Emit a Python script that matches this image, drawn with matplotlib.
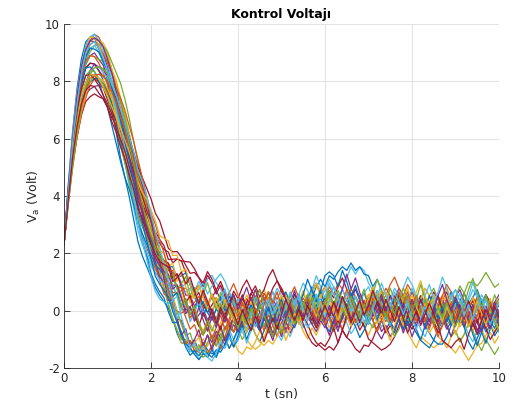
import numpy as np
import matplotlib
matplotlib.use("Agg")
import matplotlib.pyplot as plt

# time axis (s), 0.1 s step
t_sn = np.round(np.arange(0, 101) * 0.1, 2)

# ensemble centre (V)
va_mean = [2.3, 4.0, 5.5, 6.7, 7.6, 8.2, 8.5, 8.6, 8.5, 8.3,
           8.0, 7.5, 7.0, 6.5, 5.95, 5.4, 4.75, 4.1, 3.6, 3.1,
           2.6, 2.1, 1.7, 1.35, 1.0, 0.75, 0.5, 0.3, 0.15, 0.0,
           -0.1, -0.15, -0.2, -0.2, -0.2, -0.2, -0.15, -0.15, -0.15, -0.1,
           -0.1, -0.1, -0.1, -0.05, -0.05, -0.05, -0.05, 0.0, 0.0, 0.0,
           0.0, 0.0, 0.0, 0.05, 0.05, 0.05, 0.05, 0.05, 0.05, 0.05,
           0.05, 0.05, 0.05, 0.05, 0.1, 0.1, 0.1, 0.1, 0.1, 0.1,
           0.05, 0.05, 0.05, 0.05, 0.0, 0.0, 0.0, 0.0, 0.0, 0.0,
           0.0, 0.0, 0.0, 0.0, 0.0, 0.0, 0.0, 0.0, 0.0, 0.0,
           -0.05, -0.05, -0.05, -0.05, -0.05, -0.05, -0.1, -0.1, -0.1, -0.1,
           -0.1]

# per-run offsets from the centre, in steps of OFFSET_STEP volts
OFFSET_STEP = 0.13
run01 = [0, 3, 6, 8, 9, 9, 8, 7, 5, 3,
         0, -3, -6, -9, -10, -11, -12, -13, -13, -12,
         -11, -10, -9, -8, -7, -8, -10, -11, -10, -11,
         -10, -9, -7, -9, -10, -10, -9, -8, -6, -9,
         -7, -4, -2, -5, -3, 0, -2, -4, -1, 1,
         3, 0, 2, -1, -3, 0, 2, 4, 1, 3,
         0, -2, -4, -1, -3, 0, 2, -1, 1, -2,
         -4, -1, 1, 3, 0, 2, -1, -3, -5, -2,
         0, 2, -1, -4, -6, -8, -5, -3, 0, 2,
         4, 1, 3, 0, -2, 1, 3, 0, -2, -4,
         -1]
run02 = [0, 2, 5, 6, 7, 7, 7, 8, 8, 7,
         7, 7, 6, 6, 5, 4, 4, 3, 3, 2,
         2, 1, 0, -1, 0, -2, -4, -3, -1, 1,
         3, 5, 2, 4, 1, -1, 2, 4, 6, 3,
         1, -2, 0, 2, -1, -3, -1, 2, 5, 3,
         6, 4, 1, 3, 0, -2, 1, -1, -4, -2,
         0, 3, 1, -2, 0, 2, 5, 3, 0, -2,
         1, 4, 2, -1, -3, 0, 2, 5, 3, 1,
         -2, 0, 3, 1, -1, 2, 4, 1, -1, -3,
         0, 2, -1, 1, 4, 2, 0, -2, 1, 3,
         2]
run03 = [0, 1, 3, 4, 5, 6, 7, 7, 7, 8,
         8, 7, 8, 7, 7, 6, 5, 4, 2, 1,
         0, -2, -3, -5, -6, -8, -9, -11, -10, -8,
         -10, -9, -6, -8, -5, -7, -4, -6, -9, -7,
         -10, -11, -9, -10, -8, -5, -7, -4, -6, -3,
         -5, -2, -4, -1, -3, -6, -8, -5, -7, -4,
         -2, -5, -3, 0, -2, 1, -1, -4, -2, -5,
         -7, -4, -6, -3, -1, -4, -2, 0, -3, -6,
         -8, -10, -7, -8, -9, -10, -9, -8, -10, -7,
         -5, -8, -6, -3, -5, -2, -4, -7, -5, -8,
         -6]
run04 = [0, -1, -2, -3, -4, -5, -6, -6, -5, -4,
         -3, -2, 0, 1, 2, 3, 3, 2, 1, 0,
         -1, 0, 2, 3, 5, 4, 6, 5, 3, 4,
         2, 4, 6, 3, 5, 7, 4, 2, 5, 3,
         1, 3, 0, 2, 4, 6, 3, 5, 2, 0,
         -2, 1, -1, 2, 4, 1, 3, 5, 7, 4,
         6, 3, 1, 4, 2, 0, 3, 5, 2, 4,
         1, -1, 2, 0, -2, 1, 3, 6, 4, 2,
         5, 3, 1, -1, 2, 4, 1, 3, 0, 2,
         4, 6, 3, 1, 3, 0, 2, 4, 1, 3,
         5]
run05 = [0, 1, 2, 3, 3, 4, 4, 5, 6, 7,
         8, 9, 10, 11, 11, 10, 9, 8, 7, 6,
         5, 4, 3, 2, 2, 1, 0, -2, -1, 1,
         -1, -3, -5, -3, -6, -8, -5, -7, -4, -2,
         -4, -1, -3, 0, -2, -5, -3, -6, -4, -1,
         1, -2, 0, 2, -1, -3, 0, 2, 4, 1,
         -1, -3, -6, -4, -1, 1, -2, 0, -3, -5,
         -2, 0, 3, 1, -1, -4, -2, 1, -1, -3,
         0, 2, 4, 1, -1, -3, -5, -2, -4, -7,
         -5, -8, -6, -3, -5, -8, -10, -7, -9, -11,
         -9]
run06 = [0, 3, 5, 7, 7, 8, 8, 8, 7, 7,
         6, 6, 5, 3, 2, 0, -1, -3, -4, -5,
         -4, -3, -1, 0, 1, 3, 2, 4, 6, 8,
         6, 9, 7, 10, 11, 9, 7, 4, 6, 3,
         1, 4, 2, -1, 1, -2, -4, -1, -3, -6,
         -8, -5, -7, -4, -2, -5, -3, 0, 2, -1,
         1, 4, 6, 3, 5, 8, 11, 9, 11, 10,
         7, 5, 2, 0, 3, 1, -2, 0, -3, -5,
         -2, 0, 3, 6, 4, 1, -1, 2, 0, -3,
         -1, 2, 5, 3, 6, 4, 1, -1, 2, 0,
         -2]
run07 = [0, -1, -3, -5, -6, -7, -8, -8, -8, -7,
         -7, -6, -4, -3, -2, -1, 0, 0, 1, 2,
         3, 4, 5, 6, 8, 7, 10, 11, 9, 7,
         4, 6, 3, 1, 3, 5, 2, 0, -3, -1,
         1, 4, 2, 5, 3, 0, -2, 1, -1, -4,
         -6, -3, -1, 2, 0, -2, -4, -7, -9, -10,
         -11, -10, -11, -9, -6, -8, -5, -3, -6, -4,
         -1, 1, -2, 0, 3, 1, 4, 2, 0, -2,
         1, -1, -3, 0, 2, 5, 3, 1, -2, 0,
         -3, -1, 2, 0, -2, -5, -3, -1, 1, -1,
         0]
run08 = [0, 0, 1, 1, 2, 2, 1, 0, -1, -2,
         -3, -4, -5, -5, -6, -6, -5, -4, -3, -2,
         -1, 0, 1, 2, 4, 6, 5, 7, 9, 7,
         5, 2, 4, 1, -1, 2, 0, 3, 5, 2,
         0, -3, -1, 2, 4, 1, 3, 0, -2, 1,
         3, 5, 2, 4, 1, -2, 0, 3, 6, 8,
         6, 9, 8, 10, 11, 10, 12, 10, 11, 9,
         9, 6, 8, 5, 2, 4, 1, -1, 2, 0,
         -2, 1, 3, 0, 2, -1, -3, 0, 2, 5,
         3, 1, -1, 2, 4, 6, 3, 5, 2, 0,
         3]
run09 = [0, -2, -4, -5, -6, -6, -5, -4, -4, -3,
         -3, -2, -2, -3, -4, -5, -6, -7, -8, -7,
         -6, -5, -4, -2, 0, -1, 1, -1, -3, -5,
         -3, -6, -4, -2, 1, -1, 2, 0, -2, 1,
         3, 1, -1, -3, 0, 2, 4, 1, -1, 2,
         0, -3, -5, -2, 0, 3, 1, -1, -4, -2,
         1, -1, -3, 0, 2, -1, 1, 3, 0, -2,
         0, 2, 5, 3, 6, 4, 1, 3, 0, -2,
         -4, -1, 1, 3, 0, -2, 1, 4, 2, 0,
         -3, -1, 2, 0, -2, 1, -1, -4, -2, 0,
         -1]
run10 = [0, 2, 4, 6, 6, 7, 8, 7, 7, 7,
         7, 7, 7, 7, 6, 6, 5, 5, 4, 4,
         3, 2, 2, 1, 0, 1, 3, 2, 0, -2,
         0, -2, -4, -1, -3, -5, -2, 0, 2, -1,
         -3, -5, -7, -9, -10, -9, -7, -4, -6, -3,
         -1, 1, -2, 0, 2, -1, -3, -1, 2, 4,
         2, -1, 1, -2, -4, -2, 1, 3, 0, 2,
         -1, 1, 3, 5, 2, 0, -2, 1, -1, -3,
         -1, 2, 0, -3, -6, -4, -7, -8, -9, -10,
         -11, -9, -11, -13, -11, -9, -8, -6, -3, -5,
         -2]
run11 = [0, 1, 1, 2, 2, 3, 3, 3, 2, 2,
         1, 1, 0, -1, -2, -3, -4, -5, -5, -4,
         -3, -2, -1, -1, -2, -4, -6, -5, -7, -9,
         -7, -10, -8, -5, -7, -4, -6, -8, -5, -3,
         -5, -2, 0, -3, -1, 2, -1, -3, -6, -4,
         -2, -5, -3, 0, -2, 1, -1, -4, -6, -3,
         -5, -2, 0, 3, 1, -2, -4, -1, -3, 0,
         2, -1, -3, -6, -4, -7, -5, -2, -4, -1,
         1, -2, 0, 3, 1, -1, -4, -2, -5, -3,
         0, -2, 1, -1, -3, -6, -4, -1, -3, 0,
         -2]
run12 = [0, 2, 3, 4, 4, 3, 3, 2, 2, 3,
         3, 4, 5, 6, 6, 5, 5, 4, 4, 3,
         2, 0, -2, -4, -6, -8, -9, -10, -9, -10,
         -11, -8, -10, -7, -5, -8, -6, -3, -5, -2,
         -4, -7, -5, -2, 0, -3, -1, 2, 0, -2,
         1, 3, 0, -2, 1, 4, 2, 5, 3, 0,
         -2, 1, -1, -4, -2, 0, 3, 1, -2, 0,
         2, 5, 3, 1, -1, 2, 0, -2, -5, -3,
         0, 2, -1, 1, 4, 6, 3, 1, -1, 2,
         4, 7, 5, 8, 8, 7, 9, 11, 9, 7,
         8]
run13 = [0, 1, 2, 2, 3, 4, 5, 5, 4, 3,
         2, 0, -2, -4, -6, -8, -9, -10, -10, -9,
         -8, -6, -4, -2, -3, -5, -7, -9, -10, -11,
         -10, -12, -10, -10, -8, -11, -9, -6, -4, -7,
         -5, -2, -4, -1, 1, -2, 0, 3, 5, 2,
         4, 1, -1, -3, 0, -2, -5, -3, -1, 2,
         0, -3, -1, 1, -2, -4, -7, -5, -2, 0,
         2, -1, 1, -2, 0, 3, 6, 4, 1, 3,
         0, -2, -5, -7, -4, -2, 1, -1, 2, 4,
         1, -1, -3, -6, -8, -5, -3, 0, -2, 1,
         3]
run14 = [0, 1, 2, 3, 3, 2, 1, 0, -1, -1,
         0, 1, 2, 3, 4, 5, 6, 7, 8, 9,
         10, 10, 11, 10, 9, 10, 12, 12, 11, 10,
         11, 10, 8, 11, 9, 6, 8, 5, 3, 6,
         4, 7, 9, 6, 4, 2, 5, 3, 6, 8,
         5, 3, 1, 4, 2, 0, 3, 1, -2, 0,
         2, 5, 3, 6, 8, 5, 2, 0, -3, -5,
         -8, -9, -10, -11, -10, -9, -7, -4, -1, 1,
         3, 1, 4, 2, 0, -2, 1, 3, 5, 2,
         0, -2, -4, -1, 1, 4, 2, 5, 3, 1,
         2]
run15 = [0, -1, -2, -2, -3, -3, -4, -4, -3, -3,
         -2, -2, -3, -4, -5, -6, -7, -8, -9, -9,
         -10, -9, -8, -7, -8, -9, -7, -8, -10, -10,
         -11, -12, -10, -11, -9, -11, -8, -6, -9, -7,
         -4, -2, -5, -3, -6, -8, -5, -3, -1, -4,
         -2, 0, -3, -5, -2, 0, 2, -1, 1, -2,
         -4, -6, -3, -1, 1, -1, -3, -5, -8, -6,
         -3, -1, 2, 0, -2, 1, 3, 0, -3, -1,
         -4, -6, -8, -9, -10, -8, -9, -9, -7, -4,
         -2, 0, -3, -1, 2, 0, -2, -5, -3, -6,
         -4]
run16 = [0, 1, 2, 3, 4, 4, 3, 2, 1, 0,
         -1, -1, 0, 1, 2, 2, 1, 0, -1, -2,
         -3, -4, -5, -6, -4, -2, 1, 3, 5, 3,
         6, 8, 5, 3, 6, 4, 1, 3, 6, 8,
         5, 2, 4, 1, -1, 2, 5, 3, 0, 2,
         -1, 1, 4, 6, 3, 1, 4, 2, -1, 1,
         3, 6, 4, 7, 5, 2, 0, 3, 1, -2,
         0, -3, -1, 2, 4, 7, 9, 6, 4, 7,
         5, 2, 0, 3, 1, -1, 2, 4, 7, 5,
         3, 0, 2, -1, 1, 3, 0, -2, 0, 2,
         4]
run17 = [0, -2, -3, -4, -5, -5, -4, -3, -3, -2,
         -2, -1, -1, 0, 0, 1, 1, 2, 2, 3,
         3, 4, 3, 2, 0, -2, -4, -6, -8, -10,
         -8, -6, -9, -10, -8, -6, -3, -1, -4, -2,
         0, 3, 1, -1, 2, 4, 6, 3, 1, -1,
         2, 4, 1, -1, -3, -1, 2, 4, 7, 5,
         2, 0, -2, 1, 3, 0, -2, -4, -1, 1,
         4, 2, 0, 3, 5, 2, 0, -3, -1, 2,
         4, 1, 3, 6, 4, 1, -1, 2, 4, 1,
         -1, -4, -2, 1, 3, 0, 2, -1, -3, -5,
         -3]
run18 = [0, 2, 3, 5, 6, 7, 7, 6, 5, 5,
         4, 3, 3, 2, 1, 0, 0, -1, -2, -2,
         -3, -3, -4, -3, -1, 1, 3, 1, -1, 1,
         -2, 0, 2, -1, 1, 4, 2, 0, -3, -5,
         -3, -1, 2, 0, -3, -5, -2, 0, 3, 1,
         -1, -3, -6, -4, -1, 1, -2, -4, -2, 1,
         3, 0, -2, -5, -3, 0, 2, 5, 3, 1,
         -1, -3, -6, -8, -5, -3, -5, -2, 0, -2,
         1, 3, 0, -2, -4, -1, 1, 3, 0, -2,
         1, 3, 5, 2, 0, -3, -5, -2, -4, -1,
         1]
run19 = [0, 0, -1, -2, -3, -4, -4, -3, -2, -1,
         0, 1, 1, 2, 3, 4, 5, 5, 6, 6,
         5, 3, 1, -1, -3, -5, -4, -6, -8, -6,
         -9, -10, -11, -10, -8, -5, -7, -4, -2, -5,
         -3, 0, 2, -1, 1, -2, -4, -1, 1, -2,
         0, 2, 4, 1, -1, 2, 0, -3, -5, -2,
         0, -2, 1, 3, 0, -2, -4, -2, 1, -1,
         -3, -5, -3, 0, -2, -4, -7, -5, -2, 0,
         2, -1, -3, -1, 2, 4, 1, -1, -4, -2,
         0, 3, 1, -2, -4, -1, 1, 4, 2, -1,
         -3]
run20 = [0, 2, 4, 5, 7, 8, 8, 8, 7, 6,
         5, 4, 2, 0, -2, -3, -5, -6, -7, -8,
         -7, -6, -5, -3, -1, 1, 0, 2, 4, 6,
         4, 7, 9, 6, 8, 10, 11, 9, 6, 4,
         2, 0, 3, 1, 4, 2, -1, 1, 3, 6,
         4, 1, -1, 2, 4, 7, 5, 2, 0, 3,
         5, 8, 6, 3, 1, 4, 2, -1, 1, 4,
         6, 3, 5, 2, 0, -2, 1, 3, 6, 9,
         7, 4, 2, -1, 1, 3, 0, -2, 1, 4,
         6, 3, 1, -2, 0, 2, 5, 3, 0, -2,
         1]
run21 = [0, 1, 1, 0, -1, -2, -2, -3, -4, -4,
         -5, -4, -3, -2, -1, 0, 1, 2, 3, 3,
         4, 5, 6, 7, 6, 8, 10, 11, 12, 13,
         12, 10, 9, 12, 10, 7, 9, 6, 3, 5,
         2, 0, 3, 5, 7, 4, 6, 9, 11, 8,
         6, 3, 1, -2, 0, 2, -1, -3, -1, 2,
         0, -2, -5, -3, -6, -8, -9, -11, -12, -10,
         -10, -8, -5, -3, -6, -4, -1, 1, -1, -3,
         -5, -3, 0, 2, -1, -3, -6, -4, -1, 1,
         3, 0, -2, 1, 3, 1, -2, -4, -7, -5,
         -3]
run22 = [0, 1, 2, 3, 3, 2, 0, -2, -4, -6,
         -7, -8, -9, -10, -10, -9, -8, -8, -7, -6,
         -5, -4, -2, -1, 0, -2, 1, -1, 2, -1,
         1, 4, 0, 3, -1, 2, 5, 1, 4, 0,
         -3, 1, -2, 2, -1, 3, 0, -3, 1, -2,
         -5, -1, -4, 0, 3, -1, 2, 6, 2, 5,
         1, -2, 2, -1, 3, 0, 4, 1, -3, 0,
         -4, -1, 2, -2, 1, -3, -6, -2, -5, -1,
         2, -1, 3, 0, 4, 1, -2, 2, -1, -4,
         0, -3, 1, -2, -6, -9, -5, -8, -4, -1,
         -3]
run23 = [0, 0, 1, 2, 4, 5, 6, 6, 6, 5,
         5, 6, 6, 7, 8, 8, 9, 9, 8, 7,
         6, 4, 2, 0, -2, -4, -6, -9, -10, -8,
         -10, -10, -7, -10, -8, -5, -9, -6, -2, -5,
         -1, -4, 0, -3, 1, -2, -5, -1, -4, -7,
         -3, -6, -2, 1, -2, 2, -1, 3, 0, -3,
         1, -2, -5, -2, -6, -3, 0, -4, -1, 2,
         -1, 3, 0, -3, 1, -2, 2, 5, 1, 4,
         0, -3, 1, -2, -5, -1, -4, 0, 3, -1,
         2, -2, 1, -3, 0, 4, 0, -3, 1, -2,
         0]
run24 = [0, 1, 3, 5, 6, 7, 8, 7, 6, 4,
         2, 0, -2, -3, -4, -4, -3, -2, -1, 0,
         1, 2, 3, 5, 4, 7, 4, 8, 5, 2,
         6, 3, 7, 4, 1, 5, 2, -1, 3, 0,
         4, 1, 5, 2, 6, 3, -1, 2, -2, 1,
         4, 0, 3, -1, 2, 5, 1, 4, 7, 3,
         6, 2, -1, 3, 0, 4, 1, -2, 2, -1,
         3, 6, 2, 5, 1, -2, 2, -1, 3, 6,
         2, 5, 8, 4, 1, 4, 0, 3, 6, 2,
         -1, 2, -2, 1, 4, 0, -3, 1, 4, 0,
         3]
run25 = [0, -1, -1, -2, -2, -2, -1, 0, 0, 1,
         1, 2, 3, 3, 4, 5, 5, 6, 6, 5,
         4, 2, 0, -2, -5, -3, -6, -9, -6, -10,
         -7, -4, -8, -5, -9, -6, -3, -7, -4, -1,
         -5, -2, 1, -3, 0, -4, -1, -5, -8, -4,
         -7, -3, 0, -4, -1, 2, -2, 1, -3, 0,
         -4, -7, -3, -6, -2, 1, -3, 0, -4, -1,
         2, -2, 1, 4, 0, -3, 1, -2, -6, -3,
         -7, -4, -1, -5, -2, 1, -3, 0, -4, -7,
         -3, 0, -4, -1, 2, -2, -5, -1, -4, 0,
         -3]
run26 = [0, 1, 1, 1, 0, 0, -1, -2, -3, -3,
         -4, -5, -5, -6, -6, -7, -7, -6, -5, -4,
         -3, -1, 1, 3, 1, 4, 2, 5, 8, 4,
         7, 3, 6, 9, 5, 2, 6, 3, 0, 4,
         1, -2, 2, -1, 3, 6, 2, 5, 1, -2,
         2, -1, 3, 0, -3, 1, 4, 0, 3, -1,
         2, 5, 1, 4, 0, -3, 1, -2, 2, 5,
         1, 4, 8, 5, 2, 6, 3, 0, 4, 1,
         -2, 2, -1, 3, 0, -4, -1, 2, -2, 1,
         4, 1, 5, 2, -1, 3, 0, -3, 1, 5,
         2]
run27 = [0, -1, -2, -3, -3, -2, -2, -1, 0, 0,
         1, 1, 0, -1, -2, -4, -6, -8, -9, -10,
         -11, -11, -10, -8, -6, -3, -6, -2, 1, -3,
         0, 4, 1, -2, 2, -1, 3, 7, 3, 0,
         4, 1, -3, 0, -4, -1, 3, -1, 2, -2,
         -5, -1, -4, 0, 3, -1, 2, 5, 9, 6,
         3, 7, 4, 1, 5, 2, -1, 3, 0, -4,
         -1, 2, -2, -5, -1, -4, 0, 3, -1, 2,
         6, 3, 0, 4, 7, 3, 0, -3, 1, -2,
         2, 5, 1, 4, 8, 4, 1, 4, 0, -3,
         1]
run28 = [0, 1, 2, 2, 1, 0, -2, -4, -5, -6,
         -6, -5, -5, -4, -3, -3, -2, -2, -1, -1,
         0, 1, 2, 3, 5, 3, 6, 4, 1, 4,
         0, -3, 1, -2, 2, -1, -4, 0, 3, -1,
         2, 5, 1, 4, 0, -3, 0, -4, -7, -3,
         -6, -2, 1, -3, 0, -4, -7, -9, -10, -9,
         -10, -8, -5, -9, -6, -2, -5, -1, -4, 0,
         3, -1, 2, -2, 1, -3, 0, 4, 1, -2,
         2, -1, 3, 0, -3, 1, 4, 0, -3, 1,
         -2, 2, -1, 3, 0, -3, 1, -2, 2, 0,
         -1]
run29 = [0, 2, 3, 4, 5, 5, 5, 4, 4, 3,
         3, 2, 2, 1, 0, -1, -2, -3, -4, -5,
         -6, -7, -6, -5, -4, -6, -7, -9, -11, -12,
         -10, -11, -9, -10, -11, -9, -10, -8, -5, -9,
         -6, -3, -7, -4, -1, -5, -2, 1, -3, 0,
         3, -1, 2, -2, 1, 4, 8, 5, 2, 5,
         9, 10, 9, 6, 10, 7, 3, 6, 2, -1,
         3, 0, -3, 1, -2, 2, -1, 3, 0, -4,
         -1, -5, -8, -4, -1, 2, -2, 1, -3, 0,
         3, 0, -4, -8, -10, -7, -4, 0, -3, 1,
         -2]
run30 = [0, -1, -2, -3, -4, -4, -3, -3, -2, -1,
         0, 1, 2, 2, 3, 3, 4, 4, 5, 5,
         6, 7, 6, 5, 3, 5, 2, 4, 1, -2,
         1, -2, -5, -2, -6, -3, 0, -4, -1, 2,
         -1, 3, 0, -3, 1, -2, 2, 5, 2, 5,
         1, -2, 2, -1, -4, -1, 3, 0, -3, 0,
         -4, -1, 2, -2, 1, 5, 2, -1, 2, -2,
         1, -3, -6, -3, 0, -3, 1, -2, 2, 5,
         1, 4, 0, -3, 0, -4, -7, -4, -1, 2,
         -2, 1, -3, 0, -4, -1, 2, -1, 3, 0,
         -2]
run31 = [0, 0, 0, -1, -1, -2, -2, -3, -3, -4,
         -4, -3, -2, -1, 0, 1, 2, 3, 4, 6,
         7, 8, 7, 9, 11, 9, 11, 8, 10, 7,
         4, 8, 5, 2, 6, 3, 0, 4, 1, -2,
         2, -1, -5, -2, -6, -8, -9, -8, -9, -7,
         -4, -8, -5, -1, -4, 0, -3, 1, -2, 2,
         -1, 3, 0, -3, 1, -2, -5, -1, 2, -1,
         3, 0, -4, -1, -5, -8, -4, -1, -4, 0,
         -3, 1, -2, 2, -1, 3, 0, -3, 1, -2,
         -6, -3, 0, -4, -1, 3, 0, -3, 1, -2,
         -4]
run32 = [0, 2, 4, 6, 7, 7, 7, 7, 7, 7,
         6, 6, 5, 4, 4, 3, 2, 1, 0, -1,
         -2, -2, -1, 0, 2, 0, 3, 1, -2, 1,
         -2, 2, -1, -4, 0, -3, 1, -2, 2, 5,
         1, 4, 7, 3, 6, 2, -1, 3, 0, -3,
         1, -2, 2, 5, 1, -2, 2, -1, -4, 0,
         -3, 1, -2, 2, 5, 9, 5, 8, 4, 1,
         -2, 2, -1, 3, 0, 4, 1, -2, 2, -1,
         3, 0, -3, 1, -3, 0, 4, 7, 3, 0,
         4, 1, -2, 2, -1, -5, -2, 2, -1, 3,
         0]
run33 = [0, -2, -3, -4, -4, -3, -2, -1, 0, 1,
         2, 3, 4, 4, 4, 3, 3, 2, 1, 0,
         0, 1, 2, 3, 1, 4, 2, -1, 2, -1,
         2, -2, -5, -1, -4, -1, 3, -1, 2, -1,
         -4, 0, -3, 1, -2, 2, -1, -4, -7, -3,
         -6, -3, 0, -4, -1, 2, -1, 3, 0, -3,
         1, 4, 1, 5, 2, -1, 3, 0, -3, 1,
         -2, 1, 4, 1, -2, 2, -1, 3, 6, 3,
         0, 3, 7, 3, 0, -3, 1, -2, 2, -1,
         -4, -1, 2, 6, 9, 5, 2, 5, 1, -2,
         -5]
run34 = [0, 1, 3, 4, 5, 6, 6, 6, 5, 4,
         3, 3, 4, 4, 5, 5, 6, 6, 7, 7,
         6, 5, 4, 2, 0, -3, 0, -4, -7, -10,
         -8, -10, -8, -11, -12, -10, -7, -9, -6, -8,
         -7, -4, -8, -5, -1, -4, 0, 3, -1, 2,
         -2, 1, 5, 1, 4, 0, -3, 0, 4, 1,
         -2, 2, 6, 3, 0, 4, 1, -2, -5, -1,
         -4, 0, 3, 7, 4, 1, 5, 2, -1, 2,
         -2, -5, -2, 1, -2, 2, 5, 9, 6, 3,
         6, 3, -1, 2, -2, 1, 4, 1, -3, 0,
         3]
run35 = [0, -1, -1, -2, -3, -4, -5, -6, -7, -7,
         -7, -7, -6, -6, -5, -5, -4, -4, -3, -3,
         -2, -1, 0, 2, 4, 2, 5, 8, 6, 9,
         6, 3, 7, 4, 1, -2, 2, -1, 3, 0,
         -3, 1, -2, -5, -1, -4, -8, -5, -2, -5,
         -1, 3, 0, -3, 0, -3, 1, -2, -5, -2,
         1, -2, 2, -1, 3, 0, -4, -1, 2, -2,
         1, 5, 2, -1, 3, 0, -3, 1, -2, -6,
         -3, 0, -4, -1, 2, -1, -4, -8, -9, -10,
         -8, -7, -10, -6, -3, -6, -2, 1, -2, 2,
         -1]

runs = [run01, run02, run03, run04, run05, run06, run07,
        run08, run09, run10, run11, run12, run13, run14,
        run15, run16, run17, run18, run19, run20, run21,
        run22, run23, run24, run25, run26, run27, run28,
        run29, run30, run31, run32, run33, run34, run35]

x_ticks = [0, 2, 4, 6, 8, 10]
y_ticks = [-2, 0, 2, 4, 6, 8, 10]

# MATLAB default line colour order
matlab_colors = ['#0072BD', '#D95319', '#EDB120', '#7E2F8E',
                 '#77AC30', '#4DBEEE', '#A2142F']

plt.rcParams['font.family'] = 'DejaVu Sans'
plt.rcParams['axes.unicode_minus'] = False

fig = plt.figure(figsize=(5.16, 4.12), dpi=100)
ax = fig.add_axes([0.124, 0.107, 0.843, 0.835])

base = np.array(va_mean)
for i, run in enumerate(runs):
    va = base + np.array(run) * OFFSET_STEP
    ax.plot(t_sn, va, color=matlab_colors[i % 7], linewidth=0.9)

ax.set_xlim(0, 10)
ax.set_ylim(-2, 10)
ax.set_xticks(x_ticks)
ax.set_yticks(y_ticks)
ax.grid(True, color='#e3e3e3', linewidth=0.8)
ax.set_axisbelow(True)

for side in ['top', 'right']:
    ax.spines[side].set_visible(False)
for side in ['left', 'bottom']:
    ax.spines[side].set_color('#262626')
    ax.spines[side].set_linewidth(0.6)

ax.tick_params(direction='in', length=4, width=0.6, colors='#262626',
               labelsize=8.5, pad=3)

ax.set_title('Kontrol Voltajı', fontsize=9, fontweight='bold', pad=4)
ax.set_xlabel('t (sn)', fontsize=9, color='#262626', labelpad=2)
ax.set_ylabel(r'V$_{\mathrm{a}}$ (Volt)', fontsize=9, color='#262626',
              labelpad=2)

fig.savefig('out.png', dpi=100)
